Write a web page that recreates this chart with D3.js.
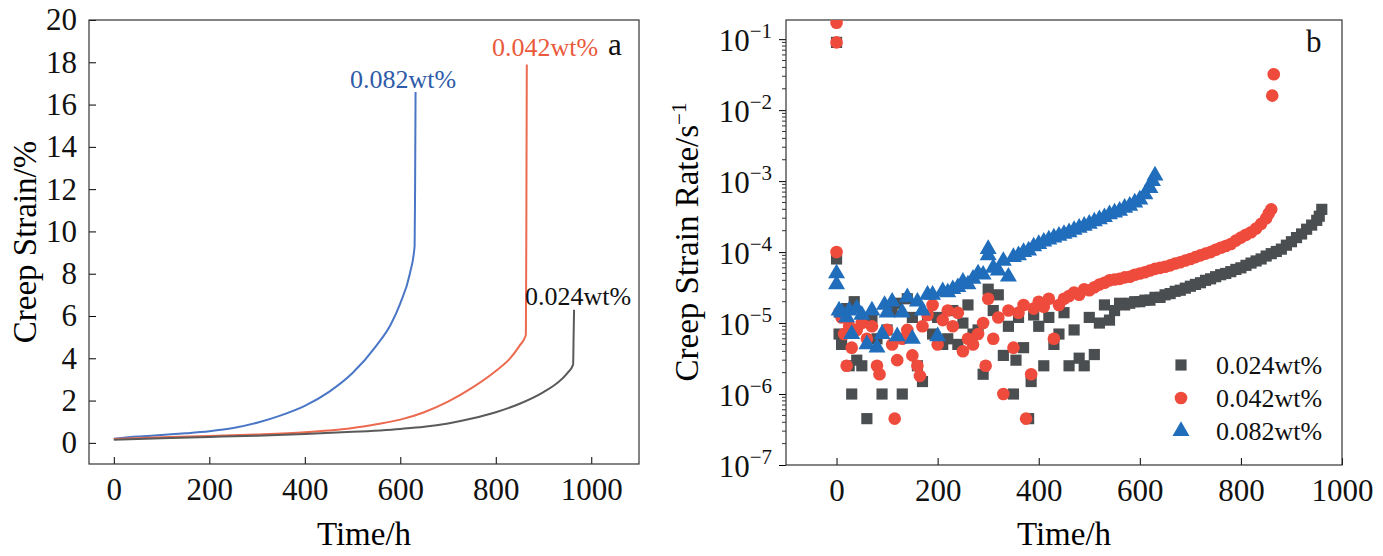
<!DOCTYPE html>
<html><head><meta charset="utf-8">
<script src="https://cdn.jsdelivr.net/npm/d3@7"></script>
<style>body{margin:0;background:#fff}svg, svg text{font-family:"Liberation Serif","DejaVu Serif",serif}</style>
</head><body><div id="wrapper"></div>
<script>
// panel a: creep strain curves [time h, strain %]
const strain082 = [[0,0.2],[50,0.3],[100,0.37],[150,0.45],[200,0.55],[250,0.7],[300,0.95],[350,1.3],[400,1.75],[450,2.4],[500,3.3],[550,4.6],[580,5.6],[600,6.6],[620,8],[630,9.3],[631,12],[632,16.6]]
const strain042 = [[0,0.18],[100,0.27],[200,0.33],[300,0.4],[400,0.5],[450,0.58],[500,0.7],[550,0.88],[600,1.1],[650,1.45],[700,1.95],[750,2.6],[800,3.4],[830,4.0],[850,4.6],[863,5.1],[864,10],[865,17.9]]
const strain024 = [[0,0.15],[100,0.22],[200,0.28],[300,0.34],[400,0.42],[500,0.52],[600,0.66],[650,0.76],[700,0.92],[750,1.15],[800,1.45],[850,1.85],[900,2.4],[930,2.85],[950,3.3],[962,3.7],[963,5],[964,6.3]]
const curveColors = ["#4a76c6", "#ec6a4f", "#5a5a5a"]
const curveLabels = ["0.082wt%", "0.042wt%", "0.024wt%"]

// panel b: creep strain rate [time h, rate 1/s]
const rate024 = [[0,0.09],[0,8e-5],[5,7e-6],[10,5e-6],[20,1.6e-5],[25,2.5e-6],[30,1e-6],[35,2e-5],[40,3e-6],[50,2.5e-6],[60,4.5e-7],[70,1.2e-5],[80,6e-6],[90,1e-6],[100,8e-6],[110,1.5e-5],[120,1.9e-5],[130,1e-6],[140,2.2e-5],[150,1.2e-5],[160,2.5e-6],[170,1.5e-6],[180,1.3e-5],[190,7e-6],[200,1.2e-5],[210,5e-6],[220,6e-6],[230,1.5e-5],[240,5e-6],[250,1e-5],[260,1.8e-5],[270,7e-6],[280,8e-6],[290,1.9e-6],[300,3e-5],[310,1.5e-5],[320,2.5e-5],[330,3.5e-6],[340,9e-6],[350,1e-6],[355,3e-6],[360,1.2e-5],[370,4.5e-6],[380,4.5e-7],[385,1.5e-6],[390,1.3e-5],[400,9e-6],[410,2.5e-6],[420,1.2e-5],[430,5e-6],[440,7e-6],[450,1.4e-5],[460,2.5e-6],[470,8e-6],[480,3.2e-6],[490,2.5e-6],[500,1.2e-5],[510,3.6e-6],[520,1e-5],[530,1.8e-5],[540,1.1e-5],[550,1.5e-5],[560,1.9e-5],[570,1.8e-5],[580,1.9e-5],[590,2e-5],[600,2e-5],[610,2.1e-5],[620,2.1e-5],[630,2.3e-5],[640,2.3e-5],[650,2.5e-5],[660,2.6e-5],[670,2.8e-5],[680,2.9e-5],[690,3.1e-5],[700,3.3e-5],[710,3.5e-5],[720,3.7e-5],[730,4e-5],[740,4.2e-5],[750,4.5e-5],[760,4.8e-5],[770,5e-5],[780,5.3e-5],[790,5.7e-5],[800,6e-5],[810,6.5e-5],[820,7e-5],[830,7.5e-5],[840,8e-5],[850,8.8e-5],[860,9.5e-5],[870,1.02e-4],[880,1.1e-4],[890,1.25e-4],[900,1.4e-4],[910,1.6e-4],[920,1.8e-4],[930,2.1e-4],[940,2.4e-4],[950,2.8e-4],[955,3.2e-4],[960,4e-4]]
const rate042 = [[0,0.17],[0,0.09],[0,1e-4],[5,1.4e-5],[10,1.2e-5],[15,7e-6],[20,2.5e-6],[25,9e-6],[30,4.5e-6],[40,8e-6],[50,1e-5],[60,6e-6],[70,9e-6],[80,2.5e-6],[85,1.9e-6],[100,8e-6],[110,5e-6],[115,4.5e-7],[120,3e-6],[130,6e-6],[140,8e-6],[150,3.5e-6],[160,2.5e-6],[165,1.8e-6],[170,9e-6],[180,1.3e-5],[190,1.8e-5],[200,5e-6],[210,1.1e-5],[220,1.5e-5],[230,9e-6],[240,1.4e-5],[250,4e-6],[260,6e-6],[270,5e-6],[280,7e-6],[290,1e-5],[295,2.5e-6],[300,2.2e-5],[310,6e-6],[320,1.2e-5],[330,1e-6],[340,1.5e-5],[350,4.5e-6],[360,1.4e-5],[370,1.8e-5],[375,4.5e-7],[385,1.9e-6],[390,1.6e-5],[400,2e-5],[410,1.7e-5],[420,2.2e-5],[430,6e-6],[440,1.8e-5],[450,2.2e-5],[460,2.4e-5],[470,2.7e-5],[480,2.5e-5],[490,3e-5],[500,2.9e-5],[510,3.2e-5],[520,3.5e-5],[530,3.7e-5],[540,4e-5],[550,4.1e-5],[560,4.2e-5],[570,4.4e-5],[580,4.5e-5],[590,4.8e-5],[600,5e-5],[610,5.2e-5],[620,5.5e-5],[630,5.8e-5],[640,6e-5],[650,6.2e-5],[660,6.5e-5],[670,6.9e-5],[680,7.2e-5],[690,7.6e-5],[700,8e-5],[710,8.5e-5],[720,9e-5],[730,9.5e-5],[740,1e-4],[750,1.08e-4],[760,1.15e-4],[770,1.22e-4],[780,1.3e-4],[790,1.45e-4],[800,1.6e-4],[810,1.75e-4],[820,1.9e-4],[830,2.15e-4],[840,2.5e-4],[850,3e-4],[855,3.5e-4],[860,4e-4],[862,0.016],[865,0.032]]
const rate082 = [[0,5e-5],[0,3.5e-5],[5,1.5e-5],[10,1.4e-5],[20,1.2e-5],[25,1.5e-5],[30,7e-6],[40,1.6e-5],[50,1.3e-5],[60,5e-6],[70,1.5e-5],[80,4.5e-6],[90,7e-6],[95,1.8e-5],[100,1.4e-5],[110,2e-5],[120,6.5e-6],[130,1.4e-5],[140,2.3e-5],[150,6e-6],[160,2e-5],[170,1.5e-5],[180,2.5e-5],[190,2.5e-5],[200,6.5e-6],[210,2.8e-5],[220,2.7e-5],[230,3e-5],[240,3.2e-5],[250,3.8e-5],[260,3.5e-5],[270,4.2e-5],[280,5e-5],[290,4.8e-5],[300,1.1e-4],[300,9e-5],[310,6e-5],[320,5.5e-5],[330,7.5e-5],[340,4.5e-5],[350,8.5e-5],[360,9e-5],[370,1e-4],[380,1.05e-4],[390,1.2e-4],[400,1.3e-4],[410,1.4e-4],[420,1.5e-4],[430,1.6e-4],[440,1.7e-4],[450,1.8e-4],[460,1.9e-4],[470,2.05e-4],[480,2.2e-4],[490,2.35e-4],[500,2.5e-4],[510,2.7e-4],[520,2.9e-4],[530,3.1e-4],[540,3.4e-4],[550,3.6e-4],[560,3.8e-4],[570,4.2e-4],[580,4.5e-4],[590,5e-4],[600,5.5e-4],[610,6.5e-4],[620,8e-4],[625,1e-3],[630,1.2e-3]]
const rateSeries = [
  {name: "0.024wt%", data: rate024, color: "#4b4e50", symbol: d3.symbolSquare},
  {name: "0.042wt%", data: rate042, color: "#ef4b3d", symbol: d3.symbolCircle},
  {name: "0.082wt%", data: rate082, color: "#1f6dbb", symbol: d3.symbolTriangle},
]
const xTicks = [0, 200, 400, 600, 800, 1000]
const yTicksA = [0, 2, 4, 6, 8, 10, 12, 14, 16, 18, 20]
const yTicksB = [-7, -6, -5, -4, -3, -2, -1]
const serif = "Liberation Serif"

const svg = d3.select("#wrapper").append("svg").attr("width", 1383).attr("height", 556)

// ---------- panel a ----------
const xA = d3.scaleLinear().domain([-52, 1100]).range([89, 639])
const yA = d3.scaleLinear().domain([-1, 20]).range([464, 20])
const gA = svg.append("g")

gA.append("g").attr("transform", "translate(0,464)")
  .call(d3.axisBottom(xA).tickValues(xTicks).tickFormat(d3.format("d")).tickSizeInner(-7).tickSizeOuter(0).tickPadding(14))
gA.append("g").attr("transform", "translate(89,0)")
  .call(d3.axisLeft(yA).tickValues(yTicksA).tickSizeInner(-7).tickSizeOuter(0).tickPadding(12))
gA.selectAll("g").attr("font-family", serif)
gA.selectAll(".tick text").attr("font-size", 31).attr("fill", "#111")
gA.selectAll(".domain").remove()
gA.append("rect").attr("x", 89).attr("y", 20).attr("width", 550).attr("height", 444)
  .attr("fill", "none").attr("stroke", "#333").attr("stroke-width", 1.2)

const lineA = d3.line().x(d => xA(d[0])).y(d => yA(d[1])).curve(d3.curveMonotoneX)
;[strain082, strain042, strain024].forEach((s, i) => {
  gA.append("path").datum(s).attr("d", lineA).attr("fill", "none")
    .attr("stroke", curveColors[i]).attr("stroke-width", 2)
})
const labA = [[403, 88, "#2f5ba8"], [545, 56, "#ea5a3c"], [578, 305, "#111"]]
labA.forEach((l, i) => gA.append("text").attr("x", l[0]).attr("y", l[1]).attr("text-anchor", "middle")
  .attr("font-size", 26).attr("fill", l[2]).text(curveLabels[i]))
gA.append("text").attr("x", 608).attr("y", 55).attr("font-size", 31).attr("fill", "#111").text("a")
gA.append("text").attr("x", 364).attr("y", 545).attr("text-anchor", "middle").attr("font-size", 33).text("Time/h")
gA.append("text").attr("transform", "translate(36,242) rotate(-90)").attr("text-anchor", "middle")
  .attr("font-size", 33).text("Creep Strain/%")

// ---------- panel b ----------
const xB = d3.scaleLinear().domain([-100, 1000]).range([786, 1342])
const yB = d3.scaleLog().domain([1e-7, Math.pow(10, -0.73)]).range([465, 20])
const gB = svg.append("g")

const xAxB = gB.append("g").attr("transform", "translate(0,465)").attr("font-family", serif)
  .call(d3.axisBottom(xB).tickValues(xTicks).tickFormat(d3.format("d")).tickSizeInner(-7).tickSizeOuter(0).tickPadding(14))
xAxB.attr("font-family", serif).selectAll(".tick text").attr("font-size", 31).attr("fill", "#111")
const minor = []
for (let e = -7; e < -1; e++) for (let m = 2; m < 10; m++) minor.push(m * Math.pow(10, e))
const yAxB = gB.append("g").attr("transform", "translate(786,0)")
yAxB.call(d3.axisLeft(yB).tickValues(yTicksB.map(e => Math.pow(10, e))).tickSizeInner(7).tickSizeOuter(0).tickFormat(""))
yAxB.attr("font-family", serif)
yAxB.selectAll(".minor").data(minor).join("line").attr("class", "minor")
  .attr("x1", -4).attr("x2", 0).attr("y1", d => yB(d)).attr("y2", d => yB(d)).attr("stroke", "#333")
yAxB.selectAll(".lab").data(yTicksB).join("text").attr("class", "lab")
  .attr("x", -14).attr("y", d => yB(Math.pow(10, d)) + 12).attr("text-anchor", "end").attr("font-size", 31).attr("fill", "#111")
  .each(function (d) {
    const t = d3.select(this)
    t.append("tspan").text("10")
    t.append("tspan").attr("dy", -13).attr("font-size", 21).text("\u2212" + Math.abs(d))
  })
gB.selectAll(".domain").remove()
gB.append("rect").attr("x", 786).attr("y", 20).attr("width", 556).attr("height", 445)
  .attr("fill", "none").attr("stroke", "#333").attr("stroke-width", 1.2)

svg.append("clipPath").attr("id", "clipB").append("rect")
  .attr("x", 786).attr("y", 20).attr("width", 556).attr("height", 445)
const pts = gB.append("g").attr("clip-path", "url(#clipB)")
rateSeries.forEach(s => {
  pts.selectAll(null).data(s.data).join("path")
    .attr("transform", d => `translate(${xB(d[0])},${yB(d[1])})`)
    .attr("d", d3.symbol(s.symbol, 125)).attr("fill", s.color)
})
rateSeries.forEach((s, i) => {
  const y = 365 + i * 33
  gB.append("path").attr("transform", `translate(1181,${y})`).attr("d", d3.symbol(s.symbol, 125)).attr("fill", s.color)
  gB.append("text").attr("x", 1216).attr("y", y + 9).attr("font-size", 26).attr("fill", "#111").text(s.name)
})
gB.append("text").attr("x", 1306).attr("y", 52).attr("font-size", 31).attr("fill", "#111").text("b")
gB.append("text").attr("x", 1064).attr("y", 545).attr("text-anchor", "middle").attr("font-size", 33).text("Time/h")
const yl = gB.append("text").attr("transform", "translate(698,242) rotate(-90)").attr("text-anchor", "middle").attr("font-size", 33)
yl.append("tspan").text("Creep Strain Rate/s")
yl.append("tspan").attr("dy", -12).attr("font-size", 21).text("\u22121")
</script>
</body></html>
